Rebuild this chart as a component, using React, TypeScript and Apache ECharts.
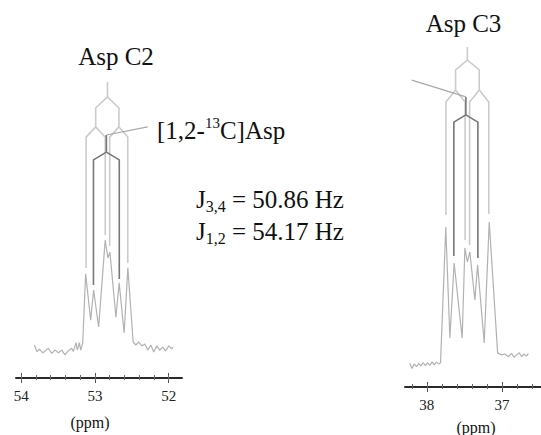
import React, { useEffect, useRef } from "react";
import * as echarts from "echarts";

// ---------- Asp C2 panel (ppm, intensity) ----------
const c2Spectrum: [number, number][] = [
  [53.82, 11.0], [53.788, 8.8], [53.753, 9.6], [53.707, 8.4], [53.662, 9.3], [53.631, 9.9],
  [53.585, 8.2], [53.541, 9.3], [53.496, 8.4], [53.45, 9.3], [53.405, 7.7], [53.361, 9.1],
  [53.315, 9.9], [53.293, 8.8], [53.257, 11.8], [53.239, 9.3], [53.212, 11.8], [53.193, 9.3],
  [53.166, 11.6], [53.126, 34.7], [53.058, 19.3], [53.018, 29.3], [52.95, 17.0], [52.861, 46.0],
  [52.824, 40.0], [52.797, 42.0], [52.716, 20.3], [52.672, 31.7], [52.604, 15.0], [52.554, 36.7],
  [52.482, 12.0], [52.446, 11.0], [52.405, 12.0], [52.365, 10.7], [52.324, 11.3], [52.284, 9.3],
  [52.243, 11.0], [52.203, 8.7], [52.162, 10.7], [52.122, 9.3], [52.081, 10.3], [52.041, 9.0],
  [52.0, 10.7], [51.959, 9.7], [51.942, 10.3],
];
const c2OuterTree: [number, number][][] = [
  [[52.83, 98.7], [52.83, 93.7], [52.99, 90], [52.99, 83.7], [53.12, 80.3], [53.12, 36.7]],
  [[52.99, 83.7], [52.86, 80.3], [52.86, 47.7]],
  [[52.83, 93.7], [52.675, 90], [52.675, 83.7], [52.8, 80.3], [52.8, 44]],
  [[52.675, 83.7], [52.555, 80.3], [52.555, 38.3]],
];
const c2InnerTree: [number, number][][] = [
  [[53.02, 31], [53.02, 72.7], [52.845, 75.3], [52.845, 81]],
  [[52.845, 75.3], [52.67, 72.7], [52.67, 33]],
];
const c2Pointer: [number, number][] = [[52.284, 83.7], [52.845, 81]];
const c2MajorTicks = [52, 53, 54];
const c2MinorTicks = [52, 52.2, 52.4, 52.6, 52.8, 53, 53.2, 53.4, 53.6, 53.8, 54];

// ---------- Asp C3 panel ----------
const c3Spectrum: [number, number][] = [
  [38.227, 7.9], [38.196, 6.2], [38.169, 7.7], [38.137, 6.8], [38.107, 7.9], [38.08, 7.0],
  [38.049, 8.1], [38.017, 7.1], [37.991, 8.1], [37.96, 7.2], [37.929, 8.4], [37.903, 7.4],
  [37.871, 8.3], [37.84, 7.7], [37.817, 8.1], [37.747, 53.3], [37.693, 16.3], [37.636, 41.3],
  [37.529, 16.3], [37.493, 46.3], [37.46, 41.7], [37.427, 45.0], [37.36, 29.0], [37.324, 40.7],
  [37.236, 14.7], [37.169, 55.0], [37.057, 11.3], [37.004, 10.7], [36.96, 11.0], [36.916, 10.1],
  [36.871, 11.2], [36.84, 9.9], [36.804, 10.7], [36.769, 11.4], [36.737, 10.1], [36.707, 11.0],
  [36.671, 10.3], [36.649, 11.2],
];
const c3OuterTree: [number, number][][] = [
  [[37.46, 113.3], [37.46, 109], [37.617, 105.7], [37.617, 99], [37.745, 95], [37.745, 57.3]],
  [[37.617, 99], [37.49, 95], [37.49, 49]],
  [[37.46, 109], [37.302, 105.7], [37.302, 99], [37.43, 95], [37.43, 47.3]],
  [[37.302, 99], [37.175, 95], [37.175, 57.7]],
];
const c3InnerTree: [number, number][][] = [
  [[37.64, 43.7], [37.64, 88.3], [37.48, 90.7], [37.48, 96.7]],
  [[37.48, 90.7], [37.32, 88.3], [37.32, 43]],
];
const c3Pointer: [number, number][] = [[38.2, 102.3], [37.48, 96.7]];
const c3MajorTicks = [37, 38];
const c3MinorTicks = [36.6, 36.8, 37, 37.2, 37.4, 37.6, 37.8, 38, 38.2];

const SERIF = "'Liberation Serif', 'Times New Roman', serif";
const AXIS_COLOR = "#2a2a2a";

function makeAxes(grid: number, min: number, max: number, major: number[], minor: number[], labelMargin: number) {
  const base = {
    type: "value" as const,
    gridIndex: grid,
    min,
    max,
    inverse: true,
    position: "bottom" as const,
    splitLine: { show: false },
  };
  const noLine = { show: false, onZero: false };
  return [
    {
      ...base,
      axisLine: { show: true, onZero: false, lineStyle: { color: AXIS_COLOR, width: 2 } },
      axisTick: { show: true, inside: true, length: 5, customValues: major, lineStyle: { color: "#555", width: 1 } },
      axisLabel: {
        show: true,
        customValues: major,
        margin: labelMargin,
        fontFamily: SERIF,
        fontSize: 15,
        color: "#222",
        formatter: (v: number) => String(Math.round(v)),
      },
    },
    {
      ...base,
      axisLine: noLine,
      axisTick: { show: true, inside: false, length: 5, customValues: major, lineStyle: { color: "#555", width: 1 } },
      axisLabel: { show: false },
    },
    {
      ...base,
      axisLine: noLine,
      axisTick: { show: true, inside: true, length: 3, customValues: minor, lineStyle: { color: "#666", width: 1 } },
      axisLabel: { show: false },
    },
    {
      ...base,
      axisLine: noLine,
      axisTick: { show: true, inside: false, length: 2, customValues: minor, lineStyle: { color: "#666", width: 1 } },
      axisLabel: { show: false },
    },
  ];
}

function lineSeries(data: [number, number][], xAxisIndex: number, yAxisIndex: number, color: string, width: number, z = 2) {
  return {
    type: "line" as const,
    data,
    xAxisIndex,
    yAxisIndex,
    symbol: "none",
    showSymbol: false,
    silent: true,
    z,
    lineStyle: { color, width },
  };
}

export default function App() {
  const ref = useRef<HTMLDivElement>(null);
  useEffect(() => {
    document.body.style.margin = "0";
    if (!ref.current) return;
    const chart = echarts.init(ref.current, undefined, { renderer: "svg" });

    const series: any[] = [];
    // left panel
    c2OuterTree.forEach((p) => series.push(lineSeries(p, 0, 0, "#cbcbcb", 1.6, 2)));
    c2InnerTree.forEach((p) => series.push(lineSeries(p, 0, 0, "#777777", 1.6, 3)));
    series.push(lineSeries(c2Pointer, 0, 0, "#a8a8a8", 1.2, 3));
    series.push(lineSeries(c2Spectrum, 0, 0, "#b2b2b2", 1.2, 4));
    // right panel
    c3OuterTree.forEach((p) => series.push(lineSeries(p, 4, 1, "#cbcbcb", 1.6, 2)));
    c3InnerTree.forEach((p) => series.push(lineSeries(p, 4, 1, "#777777", 1.6, 3)));
    series.push(lineSeries(c3Pointer, 4, 1, "#a8a8a8", 1.2, 3));
    series.push(lineSeries(c3Spectrum, 4, 1, "#b2b2b2", 1.2, 4));

    const textBase = { fontFamily: SERIF, fill: "#111" };
    const rich = {
      sup: { fontSize: 15, lineHeight: 15, verticalAlign: "top", fontFamily: SERIF, fill: "#111" },
      sub: { fontSize: 16, lineHeight: 16, verticalAlign: "bottom", fontFamily: SERIF, fill: "#111" },
    };

    chart.setOption({
      animation: false,
      backgroundColor: "#ffffff",
      grid: [
        { left: 16, top: 18, width: 166, height: 360, containLabel: false },
        { left: 405, top: 27, width: 136, height: 360, containLabel: false },
      ],
      xAxis: [
        ...makeAxes(0, 51.82, 54.07, c2MajorTicks, c2MinorTicks, 10),
        ...makeAxes(1, 36.48, 38.29, c3MajorTicks, c3MinorTicks, 10),
      ],
      yAxis: [
        { type: "value", gridIndex: 0, min: 0, max: 120, show: false },
        { type: "value", gridIndex: 1, min: 0, max: 120, show: false },
      ],
      series,
      graphic: [
        { type: "text", x: 116, y: 56.6, style: { ...textBase, text: "Asp C2", fontSize: 25, align: "center", verticalAlign: "middle" } },
        { type: "text", x: 463.5, y: 23.6, style: { ...textBase, text: "Asp C3", fontSize: 25, align: "center", verticalAlign: "middle" } },
        {
          type: "text", x: 157, y: 130.5,
          style: { ...textBase, text: "[1,2-{sup|13}C]Asp", fontSize: 25, lineHeight: 30, align: "left", verticalAlign: "middle", rich },
        },
        {
          type: "text", x: 196, y: 199.5,
          style: { ...textBase, text: "J{sub|3,4} = 50.86 Hz", fontSize: 25, lineHeight: 30, align: "left", verticalAlign: "middle", rich },
        },
        {
          type: "text", x: 196, y: 231.5,
          style: { ...textBase, text: "J{sub|1,2} = 54.17 Hz", fontSize: 25, lineHeight: 30, align: "left", verticalAlign: "middle", rich },
        },
        { type: "text", x: 90, y: 422, style: { ...textBase, text: "(ppm)", fontSize: 16, align: "center", verticalAlign: "middle" } },
        { type: "text", x: 476, y: 427.5, style: { ...textBase, text: "(ppm)", fontSize: 16, align: "center", verticalAlign: "middle" } },
      ],
    });
    return () => chart.dispose();
  }, []);
  return <div ref={ref} style={{ width: 541, height: 435 }} />;
}
